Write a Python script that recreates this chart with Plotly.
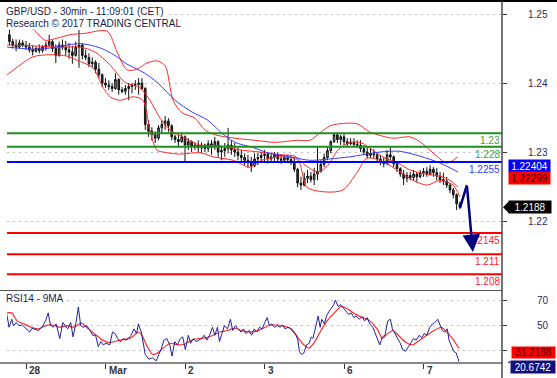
import plotly.graph_objects as go

# ---------------- data ----------------
# hourly bars, x = hours since 28 Feb 00:00 (trading time, weekend removed)
hours = list(range(-5, 132))
open_ = [1.2470,1.2460,1.2455,1.2452,1.2458,1.2455,1.2452,1.2448,1.2446,1.2450,
         1.2447,1.2452,1.2455,1.2460,1.2450,1.2440,1.2455,1.2452,1.2448,1.2445,
         1.2440,1.2452,1.2455,1.2440,1.2437,1.2428,1.2430,1.2420,1.2412,1.2400,
         1.2397,1.2395,1.2392,1.2405,1.2390,1.2388,1.2392,1.2395,1.2397,1.2398,
         1.2400,1.2392,1.2340,1.2330,1.2325,1.2320,1.2335,1.2340,1.2345,1.2338,
         1.2322,1.2318,1.2315,1.2322,1.2310,1.2315,1.2308,1.2310,1.2306,1.2310,
         1.2305,1.2312,1.2308,1.2315,1.2300,1.2302,1.2305,1.2310,1.2303,1.2300,
         1.2295,1.2292,1.2288,1.2285,1.2280,1.2290,1.2292,1.2295,1.2297,1.2290,
         1.2293,1.2296,1.2290,1.2288,1.2292,1.2289,1.2286,1.2275,1.2255,1.2252,
         1.2262,1.2265,1.2260,1.2268,1.2272,1.2282,1.2292,1.2302,1.2315,1.2325,
         1.2318,1.2322,1.2315,1.2312,1.2314,1.2311,1.2310,1.2305,1.2300,1.2295,
         1.2298,1.2296,1.2290,1.2285,1.2283,1.2296,1.2293,1.2283,1.2276,1.2268,
         1.2262,1.2266,1.2263,1.2268,1.2264,1.2270,1.2272,1.2268,1.2275,1.2270,
         1.2265,1.2260,1.2258,1.2252,1.2245,1.2238,1.2225]
high = [1.2478,1.2464,1.2463,1.2463,1.2462,1.2461,1.2458,1.2455,1.2453,1.2456,
        1.2455,1.2460,1.2470,1.2462,1.2456,1.2460,1.2463,1.2461,1.2458,1.2454,
        1.2460,1.2477,1.2458,1.2448,1.2443,1.2437,1.2433,1.2429,1.2414,1.2407,
        1.2404,1.2400,1.2414,1.2407,1.2394,1.2397,1.2400,1.2400,1.2404,1.2407,
        1.2407,1.2394,1.2346,1.2336,1.2330,1.2339,1.2346,1.2352,1.2349,1.2340,
        1.2325,1.2325,1.2327,1.2324,1.2320,1.2317,1.2314,1.2317,1.2314,1.2312,
        1.2317,1.2317,1.2322,1.2317,1.2307,1.2313,1.2335,1.2317,1.2313,1.2307,
        1.2303,1.2298,1.2296,1.2293,1.2298,1.2299,1.2300,1.2303,1.2300,1.2299,
        1.2300,1.2299,1.2297,1.2296,1.2296,1.2295,1.2293,1.2277,1.2264,1.2270,
        1.2274,1.2271,1.2277,1.2307,1.2288,1.2298,1.2307,1.2317,1.2328,1.2328,
        1.2325,1.2326,1.2320,1.2320,1.2320,1.2317,1.2317,1.2310,1.2307,1.2306,
        1.2304,1.2300,1.2296,1.2293,1.2303,1.2307,1.2295,1.2285,1.2278,1.2274,
        1.2271,1.2271,1.2274,1.2271,1.2274,1.2277,1.2278,1.2281,1.2278,1.2277,
        1.2271,1.2270,1.2264,1.2255,1.2248,1.2240,1.2228]
low = [1.2455,1.2450,1.2446,1.2450,1.2452,1.2448,1.2444,1.2440,1.2444,1.2443,
       1.2444,1.2447,1.2452,1.2445,1.2429,1.2438,1.2448,1.2440,1.2435,1.2428,
       1.2438,1.2422,1.2434,1.2433,1.2423,1.2423,1.2414,1.2407,1.2394,1.2393,
       1.2390,1.2387,1.2390,1.2383,1.2385,1.2383,1.2375,1.2385,1.2390,1.2383,
       1.2390,1.2332,1.2322,1.2317,1.2313,1.2317,1.2327,1.2332,1.2329,1.2317,
       1.2313,1.2307,1.2313,1.2286,1.2303,1.2300,1.2303,1.2300,1.2298,1.2300,
       1.2300,1.2296,1.2303,1.2292,1.2288,1.2293,1.2298,1.2296,1.2293,1.2288,
       1.2285,1.2281,1.2277,1.2271,1.2278,1.2281,1.2284,1.2285,1.2283,1.2285,
       1.2287,1.2285,1.2283,1.2285,1.2284,1.2281,1.2271,1.2249,1.2245,1.2250,
       1.2255,1.2256,1.2252,1.2259,1.2270,1.2278,1.2288,1.2298,1.2313,1.2313,
       1.2310,1.2310,1.2307,1.2310,1.2307,1.2307,1.2300,1.2296,1.2291,1.2291,
       1.2291,1.2286,1.2281,1.2278,1.2281,1.2288,1.2278,1.2271,1.2264,1.2252,
       1.2256,1.2259,1.2259,1.2256,1.2262,1.2264,1.2264,1.2266,1.2264,1.2259,
       1.2255,1.2252,1.2248,1.2240,1.2233,1.2216,1.2217]
close = [1.2460,1.2455,1.2452,1.2458,1.2455,1.2452,1.2448,1.2446,1.2450,1.2447,
         1.2452,1.2455,1.2460,1.2450,1.2440,1.2455,1.2452,1.2448,1.2445,1.2440,
         1.2452,1.2455,1.2440,1.2437,1.2428,1.2430,1.2420,1.2412,1.2400,1.2397,
         1.2395,1.2392,1.2405,1.2390,1.2388,1.2392,1.2395,1.2397,1.2398,1.2400,
         1.2392,1.2340,1.2330,1.2325,1.2320,1.2335,1.2340,1.2345,1.2338,1.2322,
         1.2318,1.2315,1.2322,1.2310,1.2315,1.2308,1.2310,1.2306,1.2310,1.2305,
         1.2312,1.2308,1.2315,1.2300,1.2302,1.2305,1.2310,1.2303,1.2300,1.2295,
         1.2292,1.2288,1.2285,1.2280,1.2290,1.2292,1.2295,1.2297,1.2290,1.2293,
         1.2296,1.2290,1.2288,1.2292,1.2289,1.2286,1.2275,1.2255,1.2252,1.2262,
         1.2265,1.2260,1.2268,1.2272,1.2282,1.2292,1.2302,1.2315,1.2325,1.2318,
         1.2322,1.2315,1.2312,1.2314,1.2311,1.2310,1.2305,1.2300,1.2295,1.2298,
         1.2296,1.2290,1.2285,1.2283,1.2296,1.2293,1.2283,1.2276,1.2268,1.2262,
         1.2266,1.2263,1.2268,1.2264,1.2270,1.2272,1.2268,1.2275,1.2270,1.2265,
         1.2260,1.2258,1.2252,1.2245,1.2238,1.2225,1.2220]

ma_hours = [-5.7,4.2,16.3,22.3,27.5,29.9,35.9,39.8,45.0,50.1,54.9,59.2,63.1,68.2,
            73.7,79.7,85.7,91.8,97.8,106.9,112.9,118.9,125.0,130.4]
ma_values = [1.2452,1.2449,1.2457,1.2451,1.2438,1.2429,1.2414,1.2400,1.2375,1.2358,
             1.2346,1.2327,1.2314,1.2307,1.2298,1.2293,1.2288,1.2290,1.2293,1.2300,
             1.2301,1.2294,1.2284,1.2271]

bb_up_hours = [-5.7,-1.8,2.1,5.7,9.4,13.3,17.8,24.5,27.5,30.5,33.5,36.5,39.5,42.0,
               44.4,47.1,51.0,54.0,57.1,63.1,69.1,75.2,81.8,85.7,88.8,91.8,94.8,
               99.9,103.8,110.8,115.9,119.5,123.5,127.1,130.4]
bb_up = [1.2488,1.2483,1.2478,1.2462,1.2465,1.2470,1.2472,1.2475,1.2445,1.2419,
         1.2420,1.2429,1.2432,1.2425,1.2375,1.2357,1.2349,1.2332,1.2325,1.2320,
         1.2317,1.2314,1.2317,1.2317,1.2328,1.2338,1.2341,1.2341,1.2329,1.2320,
         1.2322,1.2313,1.2296,1.2284,1.2293]
bb_mid_hours = [-5.7,1.2,10.3,16.3,20.8,25.4,29.9,34.4,37.4,40.5,43.5,48.0,52.5,58.6,
                64.6,70.6,76.7,81.2,84.2,88.2,91.2,94.2,97.8,101.4,104.5,108.4,112.3,
                115.9,120.5,125.0,128.0,130.4]
bb_mid = [1.2455,1.2454,1.2452,1.2452,1.2445,1.2426,1.2401,1.2393,1.2375,1.2349,
          1.2332,1.2320,1.2310,1.2309,1.2303,1.2300,1.2296,1.2294,1.2281,1.2271,
          1.2281,1.2303,1.2314,1.2313,1.2303,1.2291,1.2284,1.2274,1.2268,1.2265,
          1.2259,1.2249]
bb_low_hours = [-5.7,-1.8,2.1,7.2,12.4,15.4,20.2,23.2,25.4,28.4,32.3,35.3,37.4,39.5,
                42.6,46.5,52.5,56.5,62.5,67.6,71.2,76.7,82.1,84.8,90.9,95.7,99.9,
                102.9,107.8,112.9,116.8,121.1,125.0,128.9,131.0]
bb_low = [1.2412,1.2426,1.2438,1.2441,1.2439,1.2433,1.2422,1.2394,1.2380,1.2375,
          1.2380,1.2375,1.2332,1.2303,1.2299,1.2297,1.2299,1.2293,1.2288,1.2278,
          1.2288,1.2293,1.2288,1.2249,1.2242,1.2245,1.2270,1.2291,1.2286,1.2271,
          1.2259,1.2252,1.2259,1.2252,1.2235]

level_values = [1.23271, 1.23077, 1.22855, 1.21826, 1.21517, 1.21228]
level_labels = ["1.23", "1.228", "1.2255", "1.2145", "1.211", "1.208"]
level_kinds = ["res", "res", "pivot", "sup", "sup", "sup"]

forecast_hours = [131.0, 133.1, 134.9]
forecast_price = [1.2219, 1.2252, 1.2155]

rsi_hours = [-5.9,-5.1,-4.3,-3.8,-2.9,-2.2,-1.1,0,1.1,1.8,
             2.7,3.8,4.8,5.9,6.7,7.3,8.1,9.1,10.2,11.1,
             11.8,12.6,13.5,14.2,15.1,15.8,16.5,17.2,18.3,19.4,
             20.1,21.0,21.8,22.6,23.3,24.2,25.3,26.1,26.9,27.7,
             28.5,29.4,30.1,30.9,31.7,32.6,33.4,33.9,34.8,35.3,
             36.0,37.1,38.2,39.3,40.1,40.9,41.6,42.5,43.4,44.1,
             44.9,45.7,46.6,47.3,48.1,49.0,49.7,50.6,51.3,52.2,
             53.0,53.8,54.6,55.4,56.3,57.0,57.8,58.4,59.2,59.9,
             60.8,61.7,62.4,63.2,64.0,64.9,65.6,66.4,67.3,68.1,
             68.9,69.6,70.5,71.3,72.1,72.8,73.5,74.2,75.0,75.9,
             76.7,77.5,78.2,79.1,79.9,80.7,81.5,82.1,82.5,83.2,
             83.9,84.7,85.5,86.1,86.6,87.2,87.7,88.2,88.8,89.3,
             90.1,90.7,91.5,92.2,92.9,93.4,94.2,95.0,95.8,96.5,
             97.4,98.2,99.0,99.7,100.6,101.5,102.2,103.0,103.8,104.7,
             105.4,106.2,106.8,107.6,108.4,109.2,110.0,110.6,111.4,112.2,
             113.0,113.7,114.6,115.5,116.2,117.0,117.8,118.7,119.4,120.2,
             121.0,121.9,122.7,123.4,124.3,125.0,125.7,126.4,127.2,127.7,
             128.4,129.1,129.9,130.7]
rsi_values = [59.7,48.2,54.6,49.5,52.0,49.5,50.0,46.9,44.4,47.4,
              46.4,45.6,48.2,53.3,59.7,50.8,48.2,50.8,39.2,52.0,
              49.5,46.9,52.0,40.5,52.0,64.4,49.5,48.2,49.5,45.6,
              41.8,41.8,32.8,36.7,34.1,35.4,34.1,44.4,43.1,39.2,
              36.7,39.2,37.9,39.2,41.8,46.9,43.1,50.8,44.4,35.4,
              26.4,22.6,23.8,21.3,26.4,31.5,37.9,39.2,34.1,25.1,
              36.7,34.1,39.2,40.5,30.3,41.8,35.4,39.2,36.7,37.9,
              39.2,41.8,37.9,41.8,48.2,41.8,48.2,36.7,44.4,49.5,
              46.9,54.6,45.6,49.5,46.9,44.4,46.9,43.1,45.6,41.8,
              46.9,44.4,48.2,46.9,52.0,55.9,49.5,50.8,48.2,49.5,
              48.2,50.0,46.9,48.2,46.9,44.4,41.8,37.9,29.0,26.4,
              27.7,34.1,35.4,40.5,39.2,45.6,52.0,57.2,48.2,54.6,
              50.8,57.2,61.0,63.6,66.2,70.0,64.9,66.2,63.6,61.0,
              58.5,59.7,55.9,57.2,54.6,56.7,53.3,55.9,50.8,48.2,
              43.1,37.9,34.1,40.5,41.8,53.3,54.6,46.9,43.1,39.2,
              35.4,30.3,29.0,32.8,35.4,39.2,37.9,41.8,39.7,43.1,
              41.8,48.2,50.8,52.0,54.6,49.5,45.6,44.4,46.9,37.9,
              32.8,29.0,27.7,20.7]
rsi_ma_hours = [-5.9,-4.3,-2.7,-0.5,1.6,3.8,5.9,8.1,10.2,12.4,
                14.5,16.7,18.8,21.0,23.1,25.3,27.4,29.6,31.7,33.9,
                35.0,36.6,38.2,39.8,41.4,43.6,45.7,47.9,50.0,52.2,
                54.3,56.5,58.6,60.8,62.9,65.1,67.3,69.4,71.6,73.7,
                75.9,78.0,80.2,82.3,83.9,85.5,87.2,88.8,90.9,93.1,
                95.2,97.4,99.5,101.7,103.8,106.0,107.6,109.2,110.8,112.4,
                114.6,116.7,118.9,121.0,123.2,125.4,127.5,129.1,130.7]
rsi_ma_values = [59.7,59.7,53.3,50.8,48.2,46.9,49.5,50.0,48.2,49.5,
                 48.2,51.5,46.9,42.3,37.9,35.9,37.2,38.5,39.7,44.4,
                 41.8,32.8,26.4,27.7,31.5,35.4,34.1,34.6,37.9,39.2,
                 39.7,41.8,44.4,45.6,47.4,45.6,44.4,44.9,47.4,50.0,
                 50.0,49.0,46.9,39.2,34.1,31.5,36.7,44.4,53.3,59.7,
                 64.9,62.3,58.5,55.9,53.3,46.9,39.2,43.1,45.6,41.8,
                 36.2,34.1,37.9,41.8,45.6,48.2,43.1,37.9,31.2]

day_ticks = [0, 24, 48, 72, 96, 120]
day_labels = ["28", "Mar", "2", "3", "6", "7"]
price_ticks = [1.22, 1.23, 1.24, 1.25]
price_tick_labels = ["1.22", "1.23", "1.24", "1.25"]
rsi_ticks = [30, 50, 70]
rsi_tick_labels = ["", "50", "70"]   # the 30 label is hidden behind the value tag

tag_ma = "1.22404"
tag_mid = "1.22299"
tag_last = "1.2188"
tag_rsi_ma = "31.2188"
tag_rsi = "20.6742"

# ---------------- figure ----------------
FONT = "Liberation Sans, Arial, sans-serif"
X_RANGE = [-5.74, 143.7]

fig = go.Figure()

fig.add_trace(go.Scatter(x=bb_up_hours, y=bb_up, mode="lines", line=dict(color="#ff2a2a", width=1, shape="spline", smoothing=0.8), hoverinfo="skip"))
fig.add_trace(go.Scatter(x=bb_low_hours, y=bb_low, mode="lines", line=dict(color="#ff2a2a", width=1, shape="spline", smoothing=0.8), hoverinfo="skip"))
fig.add_trace(go.Scatter(x=bb_mid_hours, y=bb_mid, mode="lines", line=dict(color="#ff2a2a", width=1, shape="spline", smoothing=0.8), hoverinfo="skip"))
fig.add_trace(go.Scatter(x=ma_hours, y=ma_values, mode="lines", line=dict(color="#3b3bff", width=1, shape="spline", smoothing=0.8), hoverinfo="skip"))

fig.add_trace(go.Candlestick(
    x=hours, open=open_, high=high, low=low, close=close,
    increasing=dict(line=dict(color="#111111", width=1), fillcolor="#8c8c8c"),
    decreasing=dict(line=dict(color="#111111", width=1), fillcolor="#333333"),
    whiskerwidth=0, hoverinfo="skip", xaxis="x", yaxis="y"))

fig.add_trace(go.Scatter(x=forecast_hours[:2], y=forecast_price[:2], mode="lines",
                         line=dict(color="#000080", width=2.5), hoverinfo="skip"))

fig.add_trace(go.Scatter(x=rsi_ma_hours, y=rsi_ma_values, mode="lines", xaxis="x2", yaxis="y2",
                         line=dict(color="#ff2a2a", width=1.2, shape="spline", smoothing=0.6), hoverinfo="skip"))
fig.add_trace(go.Scatter(x=rsi_hours, y=rsi_values, mode="lines", xaxis="x2", yaxis="y2",
                         line=dict(color="#22229a", width=1), hoverinfo="skip"))

MAIN_DOM = [0.2022, 1.0]
RSI_DOM = [0.0, 0.1994]
tickfont = dict(family=FONT, size=10, color="#2a2a5a")

fig.update_layout(
    width=557, height=378, margin=dict(l=7, r=55, t=2, b=15),
    paper_bgcolor="white", plot_bgcolor="white", showlegend=False,
    xaxis=dict(domain=[0, 1], anchor="y", range=X_RANGE, showticklabels=False, showgrid=False,
               zeroline=False, ticks="", rangeslider=dict(visible=False)),
    yaxis=dict(domain=MAIN_DOM, anchor="x", side="right", range=[1.21, 1.251739],
               tickvals=price_ticks, ticktext=price_tick_labels, ticks="outside", ticklen=4,
               tickcolor="#333333", showgrid=True, gridcolor="#bdbdbd", griddash="2px,4px",
               zeroline=False, showline=False, tickfont=tickfont, ticklabelstandoff=19),
    xaxis2=dict(domain=[0, 1], anchor="y2", matches="x", range=X_RANGE, tickvals=day_ticks,
                showticklabels=False, ticks="outside", ticklen=5, tickcolor="#333333",
                showgrid=False, zeroline=False),
    yaxis2=dict(domain=RSI_DOM, anchor="x2", side="right", range=[19.6, 77.2],
                tickvals=rsi_ticks, ticktext=rsi_tick_labels, ticks="outside", ticklen=4,
                tickcolor="#333333", showgrid=True, gridcolor="#bdbdbd", griddash="2px,4px",
                zeroline=False, showline=False, tickfont=tickfont, ticklabelstandoff=28),
)

shapes = []
kind_color = {"res": "#1f8f1f", "pivot": "#0000ff", "sup": "#ff0000"}
text_color = {"res": "#3aa53a", "pivot": "#3434ff", "sup": "#ff2020"}
for v, k in zip(level_values, level_kinds):
    shapes.append(dict(type="line", xref="paper", x0=0, x1=1, yref="y", y0=v, y1=v,
                       line=dict(color=kind_color[k], width=2)))
# frame lines
shapes.append(dict(type="line", xref="paper", x0=-0.0142, x1=1.112, yref="paper", y0=1.0028, y1=1.0028,
                   line=dict(color="#000000", width=2)))
shapes.append(dict(type="line", xref="paper", x0=-0.0142, x1=1, yref="paper", y0=0.2008, y1=0.2008,
                   line=dict(color="#555555", width=1)))
shapes.append(dict(type="line", xref="paper", x0=-0.0142, x1=1, yref="paper", y0=0, y1=0,
                   line=dict(color="#111111", width=1)))
shapes.append(dict(type="line", xref="paper", x0=1, x1=1, yref="paper", y0=-0.045, y1=1.003,
                   line=dict(color="#4a4a4a", width=1.5)))
# pointers of the last-value tags
shapes.append(dict(type="path", xref="paper", xsizemode="pixel", xanchor=1, yref="y", ysizemode="pixel",
                   yanchor=close[-1], path="M1,0 L7,6 L7,-6 Z", fillcolor="#000000", line=dict(width=0)))
shapes.append(dict(type="path", xref="paper", xsizemode="pixel", xanchor=1, yref="y2", ysizemode="pixel",
                   yanchor=rsi_values[-1], path="M2,-5 L8,1 L8,-11 Z", fillcolor="#101080", line=dict(width=0)))

ann = []
ann.append(dict(text="GBP/USD - 30min - 11:09:01 (CET)", xref="paper", yref="paper", x=-0.004, y=0.9731,
                xanchor="left", yanchor="middle", showarrow=False, bgcolor="white", borderpad=0,
                font=dict(family=FONT, size=10, color="#1c1c4c")))
ann.append(dict(text="Research \u00a9 2017 TRADING CENTRAL", xref="paper", yref="paper", x=-0.004, y=0.9410,
                xanchor="left", yanchor="middle", showarrow=False, bgcolor="white", borderpad=0,
                font=dict(family=FONT, size=10, color="#1c1c4c")))
ann.append(dict(text="RSI14 - 9MA", xref="paper", yref="paper", x=-0.004, y=0.1773,
                xanchor="left", yanchor="middle", showarrow=False, bgcolor="white", borderpad=0,
                font=dict(family=FONT, size=10, color="#1c1c4c")))
for t, lab in zip(day_ticks, day_labels):
    ann.append(dict(text="<b>%s</b>" % lab, xref="x2", yref="paper", x=t, y=-0.0208, xanchor="left",
                    yanchor="middle", xshift=1, showarrow=False,
                    font=dict(family=FONT, size=10, color="#333333")))
for v, lab, k in zip(level_values, level_labels, level_kinds):
    ann.append(dict(text=lab, xref="paper", yref="y", x=1, y=v, xanchor="right", yanchor="top",
                    xshift=-1, yshift=-1, showarrow=False, borderpad=0,
                    font=dict(family=FONT, size=10, color=text_color[k])))
# value tags
ann.append(dict(text=tag_ma, xref="paper", yref="y", x=1, y=ma_values[-1], xanchor="left", yanchor="middle",
                xshift=6, yshift=6.5, showarrow=False, bgcolor="#0000ff", borderpad=1, width=39, height=10,
                font=dict(family=FONT, size=10, color="white")))
ann.append(dict(text=tag_mid, xref="paper", yref="y", x=1, y=bb_mid[-1], xanchor="left", yanchor="middle",
                xshift=6, yshift=8.7, showarrow=False, bgcolor="#ff0000", borderpad=1, width=39, height=10,
                font=dict(family=FONT, size=10, color="#3a0000")))
ann.append(dict(text=tag_last, xref="paper", yref="y", x=1, y=close[-1], xanchor="left", yanchor="middle",
                xshift=6, showarrow=False, bgcolor="#000000", borderpad=1, width=40, height=10,
                font=dict(family=FONT, size=10, color="white")))
ann.append(dict(text=tag_rsi_ma, xref="paper", yref="y2", x=1, y=rsi_ma_values[-1], xanchor="left",
                yanchor="middle", xshift=9, yshift=-4.2, showarrow=False, bgcolor="#ff0000", borderpad=1,
                width=41, height=9, font=dict(family=FONT, size=10, color="#3a0000")))
ann.append(dict(text=tag_rsi, xref="paper", yref="y2", x=1, y=rsi_values[-1], xanchor="left",
                yanchor="middle", xshift=8, yshift=-5, showarrow=False, bgcolor="#101080", borderpad=1,
                width=42, height=10, font=dict(family=FONT, size=10, color="white")))
# forecast arrow head
ann.append(dict(text="", x=forecast_hours[2], y=forecast_price[2], ax=forecast_hours[1], ay=forecast_price[1],
                xref="x", yref="y", axref="x", ayref="y", showarrow=True, arrowhead=2, arrowsize=1.4,
                arrowwidth=2.5, arrowcolor="#000080", standoff=0))

fig.update_layout(shapes=shapes, annotations=ann)
fig.write_html("out.html", config={"displayModeBar": False, "staticPlot": True},
               post_script="document.body.style.margin='0';document.body.style.overflow='hidden';")
